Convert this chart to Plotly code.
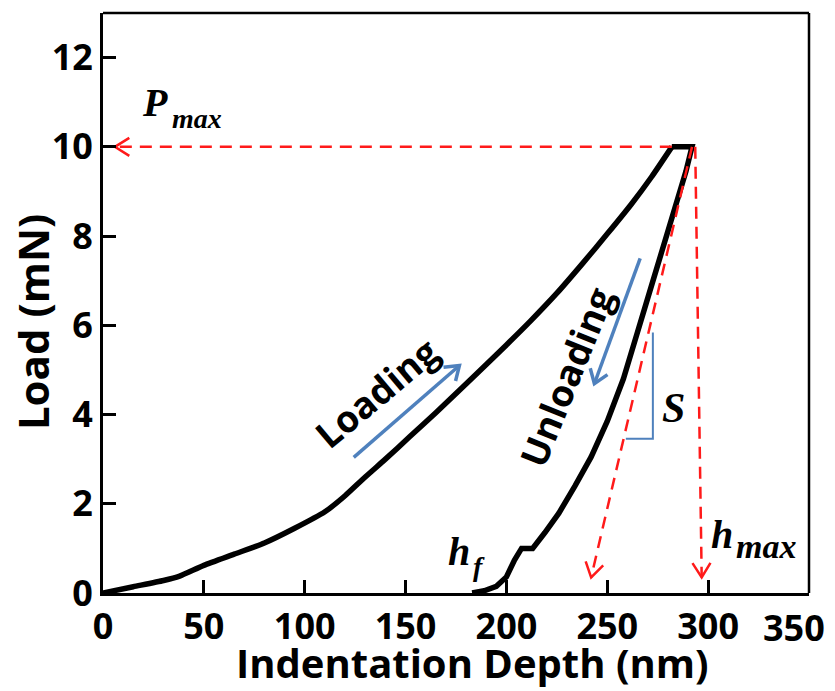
import math
import plotly.graph_objects as go

# ---------------- data ----------------
load_x = [0, 15, 30, 38, 50, 65, 80, 95, 110, 120, 130, 140, 152, 165, 178, 190,
          200, 212, 225, 238, 250, 262, 272, 282]
load_y = [0, 0.14, 0.28, 0.38, 0.62, 0.87, 1.12, 1.45, 1.82, 2.18, 2.6, 3.0, 3.5,
          4.04, 4.6, 5.12, 5.56, 6.1, 6.72, 7.4, 8.05, 8.72, 9.33, 10.0]

# hold at peak load followed by unloading
unload_x = [282, 292, 289, 284, 278, 272, 265, 258, 250, 242, 234, 226, 219, 213, 207.5,
            204, 200, 195, 189, 183]
unload_y = [10.0, 10.0, 9.45, 8.73, 7.8, 6.9, 5.85, 4.8, 3.85, 3.05, 2.4, 1.79, 1.35, 1.0,
            1.0, 0.74, 0.36, 0.15, 0.05, 0.0]

p_max = 10.0
pmax_line_x = [282, 5.9]          # horizontal dashed to the load axis
hmax_line_x = [293.6, 296.8]      # near-vertical dashed to h_max
hmax_line_y = [10.0, 0.35]
tangent_x = [292, 242]            # tangent (stiffness) dashed line
tangent_y = [10.0, 0.35]

loading_arrow_x = [124.3, 176.7]
loading_arrow_y = [3.04, 5.1]
unloading_arrow_x = [266.3, 243.6]
unloading_arrow_y = [7.5, 4.69]

s_tri_x = [259.2, 272.6, 272.6]
s_tri_y = [3.46, 3.46, 5.84]

x_ticks = [0, 50, 100, 150, 200, 250, 300]
y_ticks = [0, 2, 4, 6, 8, 10, 12]
X_RANGE = [0, 350]
Y_RANGE = [0, 13]

# ---------------- layout geometry ----------------
W, H = 835, 691
ML, MR, MT, MB = 103, 26, 13, 98
PW, PH = W - ML - MR, H - MT - MB
SX = PW / (X_RANGE[1] - X_RANGE[0])
SY = PH / (Y_RANGE[1] - Y_RANGE[0])

RED = "#ff1a1a"
BLUE = "#4f81bd"


def head(tip, frm, arm=17, ang=32):
    dx = (tip[0] - frm[0]) * SX
    dy = (tip[1] - frm[1]) * SY
    n = math.hypot(dx, dy)
    ux, uy = -dx / n, -dy / n
    pts = []
    for s in (1, -1):
        a = math.radians(ang * s)
        rx = ux * math.cos(a) - uy * math.sin(a)
        ry = ux * math.sin(a) + uy * math.cos(a)
        pts.append((tip[0] + rx * arm / SX, tip[1] + ry * arm / SY))
    return [pts[0][0], tip[0], pts[1][0]], [pts[0][1], tip[1], pts[1][1]]


fig = go.Figure()

# black curves
fig.add_trace(go.Scatter(x=load_x, y=load_y, mode="lines",
                         line=dict(color="black", width=5.5, shape="spline", smoothing=0.6),
                         hoverinfo="skip"))
fig.add_trace(go.Scatter(x=unload_x, y=unload_y, mode="lines",
                         line=dict(color="black", width=5.5), hoverinfo="skip"))

# red dashed guide lines
dash = "12px,8px"
fig.add_trace(go.Scatter(x=pmax_line_x, y=[p_max, p_max], mode="lines",
                         line=dict(color=RED, width=2.5, dash=dash)))
fig.add_trace(go.Scatter(x=hmax_line_x, y=hmax_line_y, mode="lines",
                         line=dict(color=RED, width=2.5, dash=dash)))
fig.add_trace(go.Scatter(x=tangent_x, y=tangent_y, mode="lines",
                         line=dict(color=RED, width=2.5, dash=dash)))
for tip, frm in [((pmax_line_x[1], p_max), (pmax_line_x[0], p_max)),
                 ((hmax_line_x[1], hmax_line_y[1]), (hmax_line_x[0], hmax_line_y[0])),
                 ((tangent_x[1], tangent_y[1]), (tangent_x[0], tangent_y[0]))]:
    hx, hy = head(tip, frm)
    fig.add_trace(go.Scatter(x=hx, y=hy, mode="lines",
                             line=dict(color=RED, width=2.5)))

# blue arrows
for ax_, ay_ in [(loading_arrow_x, loading_arrow_y), (unloading_arrow_x, unloading_arrow_y)]:
    fig.add_trace(go.Scatter(x=ax_, y=ay_, mode="lines",
                             line=dict(color=BLUE, width=3.5)))
    hx, hy = head((ax_[1], ay_[1]), (ax_[0], ay_[0]), arm=16, ang=35)
    fig.add_trace(go.Scatter(x=hx, y=hy, mode="lines",
                             line=dict(color=BLUE, width=3.5)))

# stiffness triangle
fig.add_trace(go.Scatter(x=s_tri_x, y=s_tri_y, mode="lines",
                         line=dict(color=BLUE, width=2)))

SANS = "Open Sans"
SERIF = "Liberation Serif"


def ann(text, x, y, size, family=SANS, angle=0, **kw):
    d = dict(text=text, x=x, y=y, showarrow=False, textangle=angle,
             font=dict(family=family, size=size, color="black"),
             xanchor="center", yanchor="middle")
    d.update(kw)
    fig.add_annotation(**d)


ann("<b>Loading</b>", 135.3, 4.5, 37, angle=-40)
ann("<b>Unloading</b>", 229.5, 4.86, 37, angle=-68)
ann("<b><i>P</i></b>", 25.8, 11.0, 40, family=SERIF)
ann("<b><i>max</i></b>", 46.4, 10.64, 28, family=SERIF)
ann("<b><i>h</i></b>", 176.5, 0.92, 40, family=SERIF)
ann("<b><i>f</i></b>", 186.4, 0.6, 28, family=SERIF)
ann("<b><i>h</i></b>", 306.9, 1.32, 40, family=SERIF)
ann("<b><i>max</i></b>", 328.7, 1.05, 34, family=SERIF)
ann("<b><i>S</i></b>", 282.6, 4.15, 42, family=SERIF)

# axis titles
ann("<b>Load (mN)</b>", -0.1006, 0.467, 42, angle=-90, xref="paper", yref="paper")
ann("<b>Indentation Depth (nm)</b>", 0.524, -0.12, 40, xref="paper", yref="paper")
# last x label (shifted inward like the reference)
ann("<b>350</b>", 350, 0, 36, xref="x", yref="paper", yanchor="top", xshift=-15, yshift=-8)

tickfont = dict(family=SANS, size=36, color="black", weight="bold")
fig.update_xaxes(range=X_RANGE, tickvals=x_ticks, ticks="inside", ticklen=13,
                 tickwidth=2.5, tickcolor="black", showline=True, linewidth=3,
                 linecolor="black", showgrid=False, zeroline=False, tickfont=tickfont)
fig.update_yaxes(range=Y_RANGE, tickvals=y_ticks, ticks="inside", ticklen=13,
                 tickwidth=2.5, tickcolor="black", showline=True, linewidth=3,
                 linecolor="black", showgrid=False, zeroline=False, tickfont=tickfont)

# top/right frame
fig.add_shape(type="line", xref="paper", yref="paper", x0=0, x1=1, y0=1, y1=1,
              line=dict(color="black", width=2.5))
fig.add_shape(type="line", xref="paper", yref="paper", x0=1, x1=1, y0=0, y1=1,
              line=dict(color="black", width=2.5))

fig.update_layout(width=W, height=H, margin=dict(l=ML, r=MR, t=MT, b=MB),
                  plot_bgcolor="white", paper_bgcolor="white", showlegend=False)

fig.write_html("out.html")
